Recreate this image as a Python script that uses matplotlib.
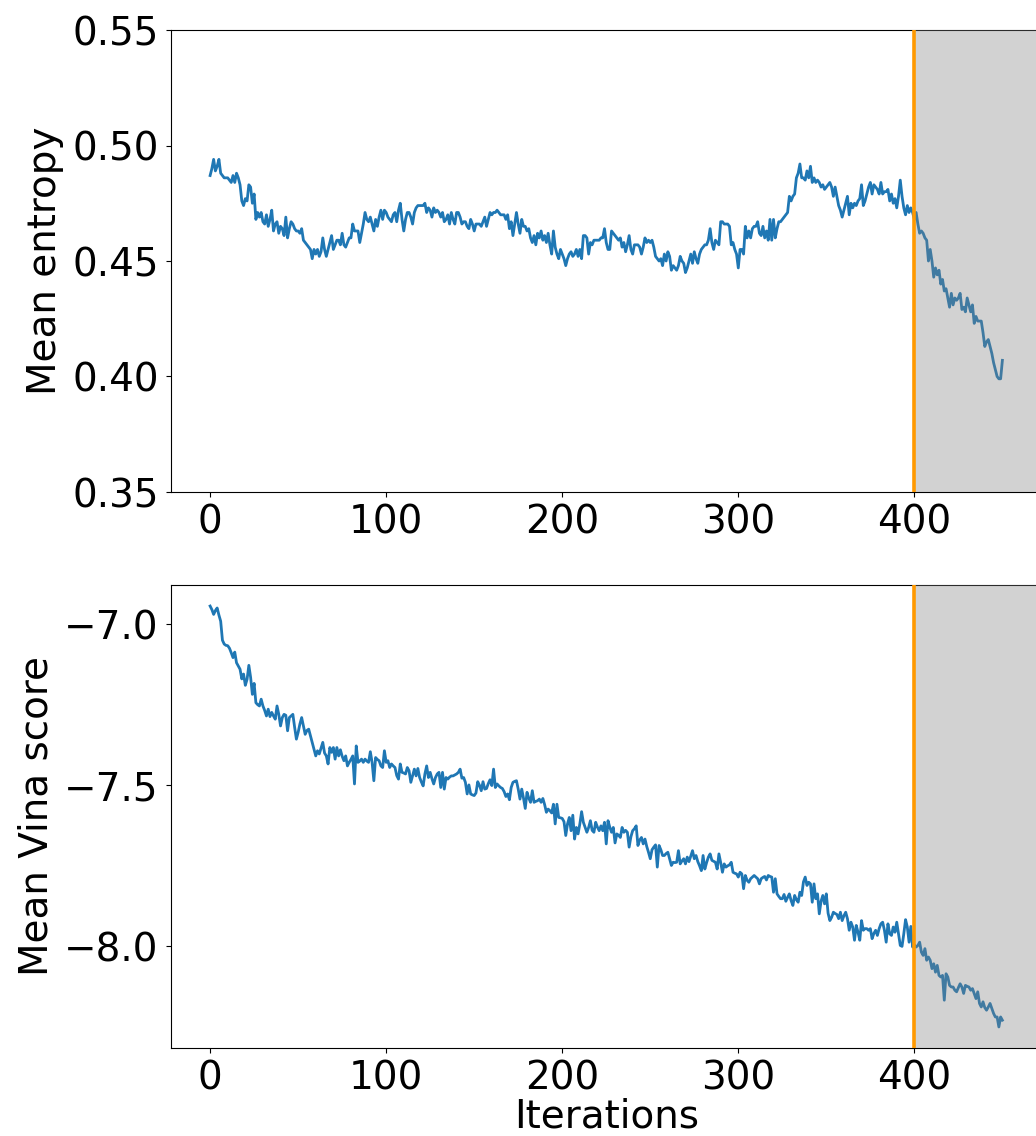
import numpy as np
import matplotlib
matplotlib.use("Agg")
import matplotlib.pyplot as plt

iterations = list(range(451))

mean_entropy = [
    0.487, 0.490, 0.494, 0.489, 0.491, 0.494, 0.488, 0.487, 0.486, 0.486,
    0.486, 0.485, 0.484, 0.487, 0.484, 0.488, 0.486, 0.483, 0.476, 0.474,
    0.477, 0.476, 0.483, 0.482, 0.475, 0.479, 0.468, 0.471, 0.469, 0.471,
    0.467, 0.466, 0.470, 0.465, 0.468, 0.472, 0.463, 0.466, 0.467, 0.462,
    0.465, 0.464, 0.461, 0.469, 0.460, 0.464, 0.467, 0.466, 0.464, 0.463,
    0.463, 0.462, 0.464, 0.459, 0.458, 0.457, 0.456, 0.455, 0.451, 0.455,
    0.453, 0.455, 0.452, 0.454, 0.460, 0.455, 0.452, 0.455, 0.458, 0.461,
    0.455, 0.457, 0.459, 0.459, 0.457, 0.462, 0.457, 0.456, 0.458, 0.460,
    0.460, 0.466, 0.463, 0.463, 0.463, 0.458, 0.462, 0.466, 0.471, 0.468,
    0.467, 0.469, 0.466, 0.463, 0.468, 0.465, 0.469, 0.472, 0.468, 0.472,
    0.471, 0.469, 0.468, 0.467, 0.470, 0.471, 0.467, 0.472, 0.475, 0.468,
    0.463, 0.468, 0.471, 0.471, 0.469, 0.466, 0.471, 0.473, 0.474, 0.474,
    0.474, 0.474, 0.475, 0.471, 0.473, 0.472, 0.469, 0.473, 0.471, 0.472,
    0.471, 0.469, 0.471, 0.467, 0.468, 0.470, 0.466, 0.471, 0.468, 0.466,
    0.471, 0.471, 0.469, 0.466, 0.467, 0.467, 0.465, 0.464, 0.468, 0.466,
    0.463, 0.466, 0.466, 0.466, 0.465, 0.467, 0.469, 0.465, 0.468, 0.471,
    0.470, 0.471, 0.471, 0.472, 0.471, 0.470, 0.470, 0.470, 0.468, 0.470,
    0.464, 0.467, 0.461, 0.466, 0.471, 0.466, 0.462, 0.468, 0.465, 0.465,
    0.463, 0.464, 0.460, 0.458, 0.461, 0.457, 0.462, 0.460, 0.463, 0.459,
    0.461, 0.458, 0.462, 0.457, 0.453, 0.463, 0.456, 0.453, 0.451, 0.455,
    0.453, 0.451, 0.448, 0.451, 0.453, 0.454, 0.452, 0.453, 0.455, 0.452,
    0.455, 0.451, 0.461, 0.461, 0.460, 0.453, 0.458, 0.457, 0.459, 0.459,
    0.459, 0.459, 0.460, 0.460, 0.464, 0.458, 0.455, 0.455, 0.463, 0.462,
    0.461, 0.460, 0.459, 0.460, 0.456, 0.458, 0.454, 0.457, 0.461, 0.455,
    0.453, 0.457, 0.457, 0.457, 0.456, 0.453, 0.456, 0.460, 0.458, 0.459,
    0.458, 0.459, 0.456, 0.452, 0.451, 0.450, 0.451, 0.448, 0.453, 0.450,
    0.454, 0.452, 0.446, 0.448, 0.447, 0.446, 0.448, 0.452, 0.450, 0.449,
    0.445, 0.447, 0.450, 0.453, 0.449, 0.454, 0.451, 0.449, 0.453, 0.455,
    0.456, 0.457, 0.457, 0.459, 0.464, 0.458, 0.455, 0.459, 0.458, 0.457,
    0.467, 0.467, 0.466, 0.466, 0.466, 0.465, 0.457, 0.458, 0.455, 0.453,
    0.447, 0.455, 0.455, 0.453, 0.465, 0.460, 0.463, 0.460, 0.464, 0.465,
    0.465, 0.467, 0.462, 0.461, 0.465, 0.460, 0.463, 0.459, 0.468, 0.459,
    0.468, 0.460, 0.464, 0.467, 0.467, 0.468, 0.469, 0.470, 0.471, 0.478,
    0.476, 0.478, 0.479, 0.486, 0.488, 0.492, 0.486, 0.486, 0.485, 0.489,
    0.486, 0.491, 0.484, 0.486, 0.484, 0.485, 0.484, 0.482, 0.483, 0.481,
    0.482, 0.483, 0.484, 0.482, 0.478, 0.482, 0.478, 0.474, 0.472, 0.469,
    0.472, 0.475, 0.478, 0.470, 0.475, 0.473, 0.475, 0.474, 0.476, 0.477,
    0.483, 0.474, 0.476, 0.479, 0.482, 0.484, 0.479, 0.483, 0.482, 0.481,
    0.479, 0.484, 0.479, 0.480, 0.480, 0.481, 0.476, 0.479, 0.475, 0.477,
    0.473, 0.478, 0.485, 0.478, 0.473, 0.470, 0.474, 0.471, 0.473, 0.471,
    0.468, 0.471, 0.466, 0.462, 0.463, 0.462, 0.460, 0.459, 0.450, 0.455,
    0.450, 0.443, 0.447, 0.444, 0.446, 0.440, 0.442, 0.437, 0.438, 0.434,
    0.430, 0.436, 0.431, 0.434, 0.433, 0.434, 0.436, 0.429, 0.430, 0.428,
    0.434, 0.431, 0.428, 0.431, 0.423, 0.426, 0.424, 0.424, 0.424, 0.419,
    0.413, 0.415, 0.416, 0.413, 0.410, 0.406, 0.403, 0.400, 0.399, 0.399,
    0.407,
]

mean_vina = [
    -6.944, -6.955, -6.970, -6.958, -6.950, -6.972, -6.991, -7.050, -7.062, -7.066,
    -7.067, -7.075, -7.089, -7.104, -7.087, -7.120, -7.130, -7.140, -7.170, -7.155,
    -7.190, -7.171, -7.128, -7.165, -7.218, -7.184, -7.244, -7.250, -7.254, -7.233,
    -7.254, -7.268, -7.285, -7.264, -7.287, -7.274, -7.285, -7.295, -7.254, -7.280,
    -7.316, -7.290, -7.280, -7.283, -7.331, -7.290, -7.285, -7.280, -7.320, -7.357,
    -7.336, -7.310, -7.290, -7.316, -7.342, -7.330, -7.326, -7.347, -7.367, -7.390,
    -7.409, -7.393, -7.403, -7.385, -7.367, -7.400, -7.409, -7.434, -7.383, -7.398,
    -7.383, -7.419, -7.383, -7.409, -7.390, -7.410, -7.424, -7.409, -7.440, -7.429,
    -7.420, -7.409, -7.496, -7.378, -7.429, -7.425, -7.419, -7.429, -7.419, -7.425,
    -7.429, -7.396, -7.429, -7.486, -7.414, -7.420, -7.424, -7.440, -7.445, -7.393,
    -7.429, -7.424, -7.445, -7.434, -7.440, -7.445, -7.470, -7.481, -7.434, -7.460,
    -7.462, -7.465, -7.445, -7.455, -7.491, -7.470, -7.450, -7.471, -7.448, -7.476,
    -7.490, -7.502, -7.465, -7.440, -7.476, -7.460, -7.480, -7.496, -7.476, -7.465,
    -7.460, -7.507, -7.460, -7.512, -7.476, -7.481, -7.475, -7.471, -7.471, -7.468,
    -7.465, -7.460, -7.450, -7.478, -7.476, -7.491, -7.527, -7.499, -7.527, -7.530,
    -7.532, -7.524, -7.489, -7.500, -7.517, -7.489, -7.512, -7.510, -7.495, -7.483,
    -7.501, -7.450, -7.507, -7.496, -7.502, -7.507, -7.510, -7.520, -7.535, -7.527,
    -7.545, -7.507, -7.491, -7.488, -7.486, -7.512, -7.543, -7.512, -7.540, -7.572,
    -7.522, -7.540, -7.553, -7.517, -7.553, -7.550, -7.548, -7.543, -7.553, -7.541,
    -7.560, -7.584, -7.574, -7.579, -7.586, -7.559, -7.620, -7.559, -7.600, -7.601,
    -7.603, -7.613, -7.656, -7.620, -7.600, -7.641, -7.593, -7.667, -7.631, -7.651,
    -7.620, -7.582, -7.615, -7.630, -7.646, -7.631, -7.610, -7.640, -7.646, -7.615,
    -7.630, -7.641, -7.626, -7.641, -7.615, -7.682, -7.610, -7.630, -7.646, -7.631,
    -7.679, -7.651, -7.655, -7.662, -7.631, -7.646, -7.640, -7.646, -7.692, -7.660,
    -7.641, -7.635, -7.626, -7.687, -7.670, -7.662, -7.682, -7.667, -7.690, -7.708,
    -7.728, -7.700, -7.692, -7.685, -7.754, -7.687, -7.700, -7.718, -7.718, -7.712,
    -7.708, -7.728, -7.749, -7.739, -7.740, -7.739, -7.703, -7.744, -7.735, -7.728,
    -7.744, -7.723, -7.737, -7.720, -7.703, -7.728, -7.718, -7.737, -7.750, -7.765,
    -7.718, -7.760, -7.740, -7.723, -7.713, -7.733, -7.736, -7.739, -7.760, -7.713,
    -7.740, -7.770, -7.744, -7.754, -7.750, -7.747, -7.739, -7.770, -7.773, -7.775,
    -7.785, -7.770, -7.775, -7.821, -7.780, -7.795, -7.801, -7.790, -7.785, -7.780,
    -7.785, -7.790, -7.806, -7.790, -7.786, -7.783, -7.794, -7.780, -7.783, -7.785,
    -7.832, -7.790, -7.837, -7.845, -7.852, -7.852, -7.839, -7.860, -7.848, -7.837,
    -7.858, -7.873, -7.842, -7.855, -7.863, -7.832, -7.842, -7.800, -7.785, -7.811,
    -7.801, -7.806, -7.863, -7.806, -7.852, -7.837, -7.899, -7.860, -7.842, -7.868,
    -7.837, -7.897, -7.920, -7.910, -7.894, -7.898, -7.901, -7.914, -7.894, -7.920,
    -7.905, -7.894, -7.914, -7.950, -7.925, -7.940, -7.981, -7.935, -7.956, -7.981,
    -7.920, -7.950, -7.945, -7.945, -7.950, -7.945, -7.976, -7.960, -7.950, -7.966,
    -7.945, -7.930, -7.925, -7.950, -7.987, -7.930, -7.961, -7.966, -7.940, -7.956,
    -7.925, -7.960, -7.997, -8.000, -7.961, -7.917, -7.940, -7.987, -7.938, -8.002,
    -7.995, -8.002, -7.997, -7.987, -8.018, -8.028, -8.007, -8.043, -8.033, -8.043,
    -8.069, -8.054, -8.080, -8.059, -8.090, -8.095, -8.090, -8.167, -8.085, -8.095,
    -8.121, -8.126, -8.126, -8.136, -8.141, -8.128, -8.116, -8.126, -8.146, -8.121,
    -8.124, -8.126, -8.136, -8.131, -8.146, -8.162, -8.141, -8.177, -8.188, -8.172,
    -8.190, -8.198, -8.188, -8.177, -8.193, -8.208, -8.219, -8.219, -8.250, -8.219,
    -8.229,
]

cutoff = 400
x_ticks = [0, 100, 200, 300, 400]
entropy_ticks = [0.35, 0.40, 0.45, 0.50, 0.55]
vina_ticks = [-7.0, -7.5, -8.0]

plt.rcParams['font.family'] = ['DejaVu Sans']
FS = 28

W, H = 1036, 1136
fig = plt.figure(figsize=(W / 100, H / 100), dpi=100)
ax1 = fig.add_axes([170.5 / W, 1 - 492 / H, (1042 - 170.5) / W, 462 / H])
ax2 = fig.add_axes([170.5 / W, 1 - 1048 / H, (1042 - 170.5) / W, 463 / H])

for ax, vals, ylabel, yt in [
    (ax1, mean_entropy, "Mean entropy", entropy_ticks),
    (ax2, mean_vina, "Mean Vina score", vina_ticks),
]:
    ax.plot(iterations, vals, color="#1f77b4", lw=2.0, zorder=2)
    ax.set_xlim(-22.5, 472.5)
    ax.axvspan(cutoff, 480, facecolor="gray", alpha=0.35, lw=0, zorder=3)
    ax.axvline(cutoff, color="#ff9900", lw=2.6, zorder=4)
    ax.set_xticks(x_ticks)
    ax.set_yticks(yt)
    ax.set_ylabel(ylabel, fontsize=FS, labelpad=6)
    ax.tick_params(labelsize=FS, pad=5)

ax1.set_ylim(0.35, 0.55)
ax1.set_yticklabels([f"{t:.2f}" for t in entropy_ticks])
ax2.set_ylim(-8.3153, -6.8787)
ax2.set_xlabel("Iterations", fontsize=FS, labelpad=0)

fig.savefig("out.png", dpi=100)
